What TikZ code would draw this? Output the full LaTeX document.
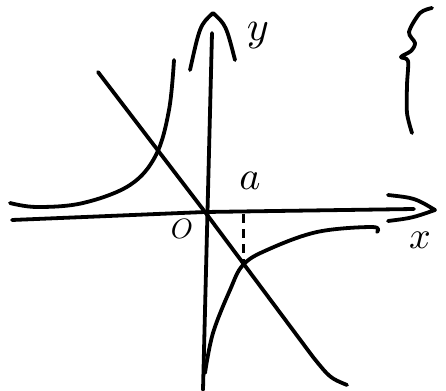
\documentclass[tikz,border=0pt]{standalone}
\usepackage{amsmath}
\usepackage{amssymb}
\usepackage{graphicx}
\usepackage{tikz}

\tikzset{
    pen/.style={line width=3.8pt, line cap=round, line join=round},
    lbl/.style={inner sep=0pt}
}

\begin{document}
\begin{tikzpicture}[x=1pt,y=-1pt]
            \useasboundingbox (0,0) rectangle (446,390);

            \coordinate (o) at (205,212);
            \coordinate (xl) at (12,220);
            \coordinate (xr) at (414,209);
            \coordinate (yb) at (203,390);
            \coordinate (yt) at (212,33);
            \coordinate (xtip) at (435,210);
            \coordinate (ytip) at (213,13);
            \coordinate (p) at (98,72);
            \coordinate (q) at (347,385);
            \coordinate (c) at (243,265);
            \coordinate (ca) at (243,214);

            % axes
            \draw[pen] (xl)--(o)--(xr);
            \draw[pen] (yb)--(yt);
            \draw[pen] (388,195) .. controls (415,198) .. (xtip) .. controls (412,218) .. (388,221);
            \draw[pen] (190,70) .. controls (200,25) .. (ytip) .. controls (226,25) .. (235,60);

            % line through o
            \draw[pen] (p)--(o)--(313,357) .. controls (330,378) .. (q);

            % branches
            \draw[pen] plot[smooth, tension=0.6] coordinates {(10,203) (37,207) (83,203) (130,185) (156,155) (169,110) (174,60)};
            \draw[pen] plot[smooth, tension=0.6] coordinates {(205,373) (213,333) (230,290) (c) (267,250) (317,232) (372,227) (377,232)};

            \draw[pen, line width=3pt, line cap=butt, dash pattern=on 9pt off 6pt] (ca)--(c);

            % brace
            \draw[pen] plot[smooth] coordinates {(432,8) (420,13) (409,32) (415,43) (411,51) (401,57) (408,61) (407,85) (407,113) (412,133)};

            \node[lbl] (ly) at (258,36) {\scalebox{4.2}{$y$}};
            \node[lbl] (lx) at (420,240) {\scalebox{3.8}{$x$}};
            \node[lbl] (lo) at (182,229) {\scalebox{2.8}{$O$}};
            \node[lbl] (la) at (250,181) {\scalebox{4}{$a$}};
        \end{tikzpicture}
\end{document}
